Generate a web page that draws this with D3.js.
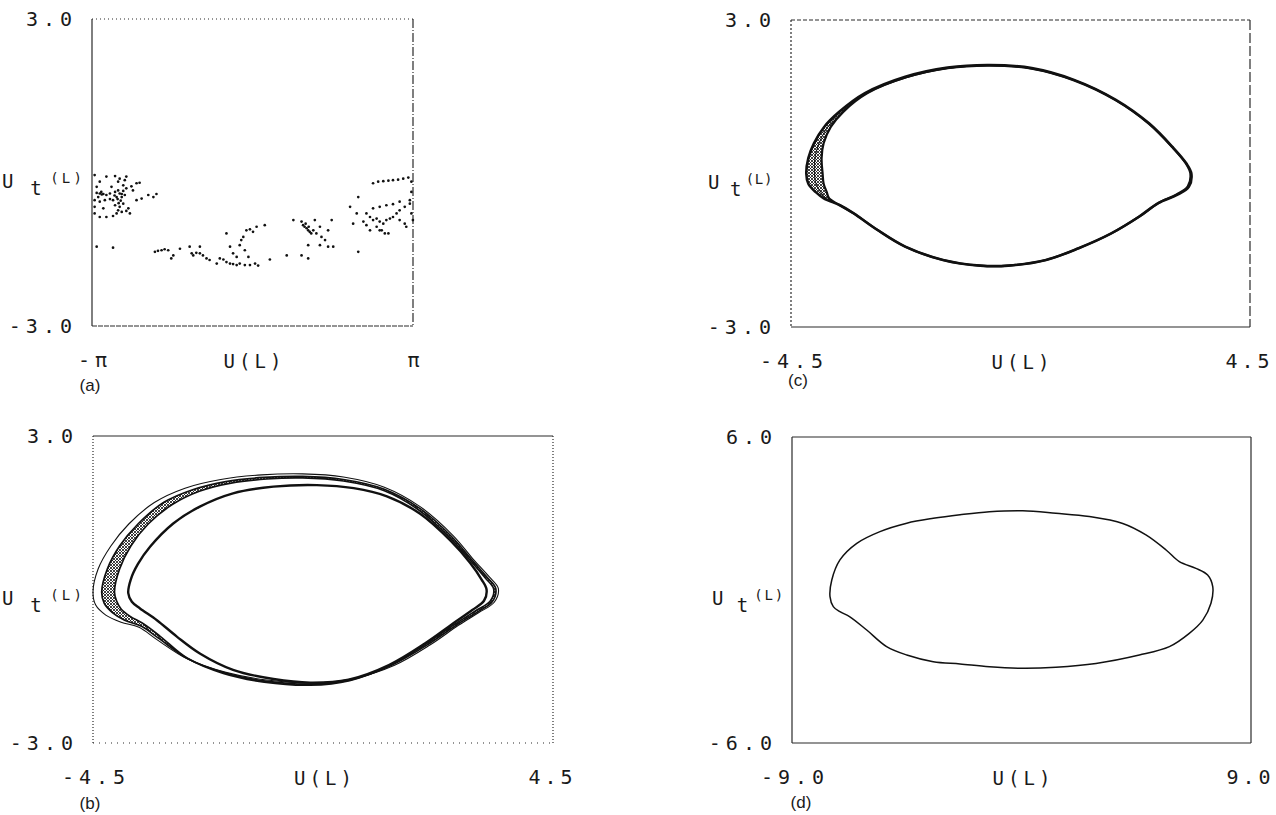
<!DOCTYPE html>
<html>
<head>
<meta charset="utf-8">
<script src="https://cdn.jsdelivr.net/npm/d3@7"></script>
<style>
  body { margin: 0; background: #fff; }
  svg { display: block; }
  .tick text { font-family: "DejaVu Sans Mono", monospace; font-size: 20px; fill: #1a1a1a; letter-spacing: 5px; }
  .lab { font-family: "DejaVu Sans Mono", monospace; fill: #1a1a1a; }
  .tag { font-family: "Liberation Sans", Arial, sans-serif; font-size: 17px; fill: #1a1a1a; }
</style>
</head>
<body>
<svg id="chart" width="1276" height="815"></svg>
<script>

// ---- data ----

// (a) Poincare-like scatter, U(L) in [-pi, pi]
var pointsA = [
  [-3.09,-0.05],[-2.99,-0.18],[-2.86,-0.08],[-2.69,-0.07],[-2.60,-0.12],[-2.50,-0.15],[-2.47,-0.08],
  [-3.05,-0.40],[-2.99,-0.41],[-2.92,-0.42],[-2.86,-0.44],[-2.73,-0.54],[-2.66,-0.48],[-2.60,-0.41],
  [-2.53,-0.36],[-2.47,-0.31],[-2.37,-0.27],[-2.27,-0.21],[-2.21,-0.20],[-2.69,-0.38],[-2.63,-0.35],
  [-2.56,-0.48],[-2.50,-0.44],[-2.99,-0.57],[-2.89,-0.54],[-2.79,-0.52],[-3.09,-0.80],[-2.99,-0.87],
  [-2.86,-0.87],[-2.73,-0.85],[-2.66,-0.80],[-2.63,-0.74],[-2.56,-0.77],[-2.47,-0.75],[-2.40,-0.80],
  [-2.43,-0.70],[-2.34,-0.35],[-2.27,-0.54],[-2.17,-0.51],[-2.04,-0.44],[-1.94,-0.48],[-1.88,-0.42],
  [-3.09,-0.54],[-3.09,-0.67],[-3.05,-0.28],[-3.05,-1.45],[-2.73,-1.47],[-3.02,-0.48],[-2.96,-0.38],
  [-2.79,-0.41],[-2.76,-0.28],[-2.63,-0.18],[-2.53,-0.25],[-2.69,-0.64],[-2.60,-0.67],[-2.53,-0.61],
  [-2.92,-0.70],[-2.56,-0.42],[-2.70,-0.45],[-2.64,-0.52],[-2.58,-0.55],[-2.62,-0.60],[-2.95,-0.43],
  [-1.91,-1.55],[-1.85,-1.53],[-1.78,-1.52],[-1.72,-1.50],[-1.65,-1.52],[-1.59,-1.68],[-1.55,-1.62],
  [-1.42,-1.49],[-1.23,-1.45],[-1.19,-1.58],[-1.16,-1.62],[-1.10,-1.57],[-1.03,-1.58],[-0.97,-1.62],
  [-1.03,-1.45],[-0.90,-1.68],[-0.84,-1.71],[-0.70,-1.78],[-0.64,-1.68],[-0.57,-1.70],[-0.51,-1.75],
  [-0.44,-1.78],[-0.38,-1.79],[-0.31,-1.81],[-0.25,-1.78],[-0.15,-1.81],[-0.05,-1.81],[0.05,-1.78],
  [0.11,-1.82],[0.34,-1.70],[-0.51,-1.19],[-0.44,-1.45],[-0.38,-1.58],[-0.25,-1.42],[-0.18,-1.26],
  [-0.12,-1.13],[-0.05,-1.11],[0.01,-1.16],[0.08,-1.06],[0.24,-1.03],[-0.31,-1.65],[-0.22,-1.32],
  [-0.15,-1.52],[-0.08,-1.65],[0.67,-1.62],[0.80,-0.93],[0.96,-1.62],[1.09,-1.68],
  [0.96,-0.96],[0.99,-1.03],[1.02,-1.06],[1.06,-1.09],[1.09,-1.13],[1.12,-1.16],[1.15,-1.19],
  [1.19,-1.13],[1.25,-1.19],[1.32,-1.06],[1.35,-1.26],[1.42,-1.32],[1.48,-1.13],[1.55,-0.93],
  [1.22,-0.93],[1.32,-1.42],[1.48,-1.45],[1.09,-1.42],[1.58,-1.45],[1.91,-0.67],[1.97,-1.00],
  [2.07,-1.55],[2.07,-0.48],[2.04,-0.80],[1.04,-1.00],[1.10,-1.06],
  [2.36,-0.21],[2.46,-0.18],[2.56,-0.17],[2.66,-0.16],[2.75,-0.15],[2.85,-0.14],[2.95,-0.12],
  [3.05,-0.10],[3.11,-0.18],[2.23,-0.80],[2.30,-0.87],[2.36,-0.93],[2.43,-0.90],[2.49,-0.96],
  [2.56,-1.00],[2.62,-0.93],[2.69,-0.90],[2.75,-0.87],[2.82,-0.80],[2.88,-0.74],[2.98,-0.67],
  [3.08,-0.61],[2.36,-0.70],[2.49,-0.67],[2.62,-0.64],[2.75,-0.62],[2.88,-0.57],[3.08,-0.54],
  [2.43,-1.06],[2.53,-1.13],[2.59,-1.19],[2.66,-1.19],[2.49,-1.13],[2.17,-0.96],[2.23,-1.03],
  [2.30,-1.13],[2.88,-0.93],[2.98,-1.00],[3.01,-1.06],[3.11,-0.80],[3.11,-0.38],[3.14,-0.93]
];

// (b) four nearby loops, outermost to innermost
var loopB1 = [
  [-4.50,-0.05],[-4.40,0.40],[-4.15,0.85],[-3.80,1.28],[-3.30,1.70],[-2.70,1.98],[-2.00,2.15],
  [-1.20,2.24],[-0.40,2.26],[0.40,2.20],[1.20,2.00],[1.90,1.62],[2.55,1.05],[2.95,0.58],[3.25,0.25],
  [3.43,0.02],[3.35,-0.25],[3.05,-0.45],[2.65,-0.70],[2.10,-1.08],[1.40,-1.48],[0.60,-1.74],
  [-0.20,-1.83],[-1.10,-1.77],[-1.90,-1.62],[-2.65,-1.36],[-3.25,-0.98],[-3.60,-0.74],[-3.95,-0.64],
  [-4.25,-0.50],[-4.45,-0.30]
];
var loopB2 = [
  [-4.33,-0.05],[-4.22,0.40],[-3.98,0.85],[-3.62,1.28],[-3.12,1.70],[-2.55,1.95],[-1.90,2.11],
  [-1.15,2.19],[-0.40,2.21],[0.40,2.15],[1.20,1.96],[1.90,1.58],[2.52,1.03],[2.92,0.57],[3.21,0.24],
  [3.38,0.02],[3.31,-0.24],[3.02,-0.44],[2.62,-0.69],[2.06,-1.07],[1.36,-1.47],[0.56,-1.76],
  [-0.22,-1.85],[-1.12,-1.79],[-1.92,-1.63],[-2.65,-1.35],[-3.22,-0.95],[-3.55,-0.72],[-3.88,-0.60],
  [-4.12,-0.45],[-4.28,-0.27]
];
var loopB3 = [
  [-4.08,-0.05],[-3.98,0.40],[-3.76,0.85],[-3.42,1.28],[-2.95,1.66],[-2.42,1.92],[-1.80,2.08],
  [-1.10,2.16],[-0.40,2.18],[0.40,2.12],[1.20,1.93],[1.88,1.55],[2.50,1.00],[2.90,0.55],[3.18,0.22],
  [3.34,0.01],[3.27,-0.23],[2.98,-0.42],[2.58,-0.68],[2.02,-1.06],[1.32,-1.48],[0.52,-1.78],
  [-0.25,-1.87],[-1.15,-1.81],[-1.95,-1.64],[-2.66,-1.34],[-3.18,-0.92],[-3.50,-0.68],[-3.78,-0.52],
  [-3.95,-0.38],[-4.04,-0.22]
];
var loopB4 = [
  [-3.81,-0.07],[-3.76,0.20],[-3.62,0.50],[-3.38,0.84],[-2.93,1.29],[-2.41,1.62],[-1.76,1.88],
  [-0.97,2.01],[-0.12,2.04],[0.60,1.98],[1.25,1.82],[1.90,1.48],[2.50,0.95],[2.88,0.52],[3.10,0.20],
  [3.20,0.00],[3.15,-0.22],[2.92,-0.40],[2.55,-0.66],[2.00,-1.05],[1.30,-1.47],[0.50,-1.76],
  [-0.25,-1.82],[-0.97,-1.75],[-1.76,-1.57],[-2.41,-1.25],[-2.86,-0.92],[-3.25,-0.60],[-3.58,-0.37],
  [-3.74,-0.24]
];

// (c) narrow band: outer, middle and inner strands
var loopCOuter = [
  [-4.20,0.00],[-4.16,0.30],[-4.05,0.59],[-3.85,0.91],[-3.56,1.20],[-3.05,1.57],[-2.26,1.89],
  [-1.43,2.07],[-0.61,2.12],[0.22,2.06],[1.05,1.83],[1.87,1.44],[2.52,0.98],[2.98,0.52],[3.25,0.20],
  [3.35,0.00],[3.30,-0.26],[3.07,-0.42],[2.70,-0.58],[2.33,-0.84],[1.78,-1.17],[1.14,-1.46],
  [0.50,-1.69],[-0.24,-1.80],[-0.79,-1.80],[-1.52,-1.69],[-2.26,-1.43],[-2.81,-1.10],[-3.27,-0.78],
  [-3.54,-0.62],[-3.85,-0.49],[-4.02,-0.36],[-4.16,-0.20]
];
var loopCMid = [
  [-4.04,0.00],[-4.03,0.30],[-3.95,0.59],[-3.78,0.91],[-3.51,1.20],[-3.02,1.56],[-2.24,1.87],
  [-1.43,2.05],[-0.61,2.11],[0.22,2.05],[1.05,1.82],[1.87,1.43],[2.52,0.97],[2.98,0.51],[3.24,0.20],
  [3.34,0.00],[3.29,-0.25],[3.06,-0.42],[2.70,-0.58],[2.33,-0.84],[1.78,-1.17],[1.14,-1.46],
  [0.50,-1.69],[-0.24,-1.80],[-0.79,-1.80],[-1.52,-1.69],[-2.26,-1.43],[-2.81,-1.10],[-3.27,-0.78],
  [-3.54,-0.62],[-3.80,-0.49],[-3.92,-0.36],[-4.01,-0.20]
];
var loopCInner = [
  [-3.88,0.00],[-3.90,0.30],[-3.86,0.59],[-3.72,0.91],[-3.48,1.20],[-3.00,1.57],[-2.24,1.88],
  [-1.43,2.06],[-0.61,2.11],[0.22,2.05],[1.05,1.82],[1.87,1.43],[2.52,0.97],[2.98,0.51],[3.24,0.20],
  [3.33,0.00],[3.28,-0.25],[3.06,-0.41],[2.70,-0.58],[2.33,-0.84],[1.78,-1.17],[1.14,-1.46],
  [0.50,-1.69],[-0.24,-1.80],[-0.79,-1.80],[-1.52,-1.69],[-2.26,-1.43],[-2.81,-1.10],[-3.27,-0.78],
  [-3.54,-0.62],[-3.75,-0.49],[-3.80,-0.36],[-3.86,-0.20]
];

// (d) single closed orbit
var loopD = [
  [-7.51,-0.26],[-7.44,0.39],[-7.12,1.18],[-6.46,1.83],[-5.55,2.29],[-4.50,2.62],[-3.46,2.81],
  [-2.41,2.95],[-1.26,3.07],[0.05,3.11],[1.35,3.01],[2.66,2.88],[3.97,2.61],[4.88,2.16],[5.67,1.57],
  [6.19,1.11],[6.84,0.85],[7.30,0.59],[7.50,0.13],[7.43,-0.52],[7.11,-1.18],[6.58,-1.70],
  [5.80,-2.22],[4.62,-2.55],[2.92,-2.88],[1.35,-3.03],[0.05,-3.07],[-1.26,-3.01],[-2.41,-2.90],
  [-3.46,-2.81],[-4.50,-2.55],[-5.29,-2.22],[-6.07,-1.57],[-6.73,-1.05],[-7.12,-0.85],[-7.38,-0.65]
];

// axis ranges and tick labels
var xDomainA = [-Math.PI, Math.PI], xTickLabelsA = ["-π", "π"];
var xDomainBC = [-4.5, 4.5], xTickLabelsBC = ["-4.5", "4.5"];
var xDomainD = [-9, 9], xTickLabelsD = ["-9.0", "9.0"];
var yDomainABC = [-3, 3], yTickLabelsABC = ["-3.0", "3.0"];
var yDomainD = [-6, 6], yTickLabelsD = ["-6.0", "6.0"];
var xAxisTitle = "U(L)";
var panelTags = ["(a)", "(b)", "(c)", "(d)"];

// ---- layout ----
var svg = d3.select("#chart");
var tickSpacing = 5;

var defs = svg.append("defs");
defs.append("pattern")
    .attr("id", "hatch")
    .attr("patternUnits", "userSpaceOnUse")
    .attr("width", 3).attr("height", 3)
  .append("path")
    .attr("d", "M0,0L3,3M3,0L0,3")
    .attr("stroke", "#111")
    .attr("stroke-width", 0.8);

// sides: top, right, bottom, left dash patterns ("" = solid)
var panels = [
  { left: 92,  top: 19,  width: 321, height: 307, xDomain: xDomainA,  xLabels: xTickLabelsA,
    yDomain: yDomainABC, yLabels: yTickLabelsABC, tag: panelTags[0], tagX: 90,  tagY: 391,
    labGap: 7, labSpan: 83, sides: ["1,3", "9,2,1,2", "5,1", ""] },
  { left: 93,  top: 436, width: 460, height: 307, xDomain: xDomainBC, xLabels: xTickLabelsBC,
    yDomain: yDomainABC, yLabels: yTickLabelsABC, tag: panelTags[1], tagX: 90,  tagY: 809,
    labGap: 8, labSpan: 83, sides: ["", "1,2", "1,5", "1,2"] },
  { left: 791, top: 20,  width: 459, height: 307, xDomain: xDomainBC, xLabels: xTickLabelsBC,
    yDomain: yDomainABC, yLabels: yTickLabelsABC, tag: panelTags[2], tagX: 798, tagY: 386,
    labGap: 18, labSpan: 65, sides: ["4,2", "10,3", "", "2,2"] },
  { left: 792, top: 437, width: 459, height: 306, xDomain: xDomainD,  xLabels: xTickLabelsD,
    yDomain: yDomainD, yLabels: yTickLabelsD, tag: panelTags[3], tagX: 801, tagY: 808,
    labGap: 7, labSpan: 73, sides: ["", "", "", ""] }
];

panels.forEach(function (p) {
    p.x = d3.scaleLinear().domain(p.xDomain).range([0, p.width]);
    p.y = d3.scaleLinear().domain(p.yDomain).range([p.height, 0]);
    p.g = svg.append("g").attr("transform", "translate(" + p.left + "," + p.top + ")");
    p.line = d3.line()
        .x(function (d) { return p.x(d[0]); })
        .y(function (d) { return p.y(d[1]); })
        .curve(d3.curveCatmullRomClosed.alpha(0.5));

    // frame
    var w = p.width, h = p.height;
    var edges = [[0, 0, w, 0], [w, 0, w, h], [0, h, w, h], [0, 0, 0, h]];
    p.g.selectAll(".edge")
        .data(edges)
        .enter().append("line")
        .attr("class", "edge")
        .attr("x1", function (d) { return d[0]; })
        .attr("y1", function (d) { return d[1]; })
        .attr("x2", function (d) { return d[2]; })
        .attr("y2", function (d) { return d[3]; })
        .attr("stroke", "#2a2a2a")
        .attr("stroke-width", 1.2)
        .attr("stroke-dasharray", function (d, i) { return p.sides[i] || null; });

    // end-point tick labels only
    var yAx = p.g.append("g")
        .call(d3.axisLeft(p.y).tickValues(p.yDomain).tickSize(0).tickPadding(20 - tickSpacing)
            .tickFormat(function (d, i) { return p.yLabels[i]; }));
    yAx.select(".domain").remove();
    yAx.attr("font-family", null).attr("font-size", null);

    var xAx = p.g.append("g")
        .attr("transform", "translate(0," + h + ")")
        .call(d3.axisBottom(p.x).tickValues(p.xDomain).tickSize(0).tickPadding(27)
            .tickFormat(function (d, i) { return p.xLabels[i]; }));
    xAx.select(".domain").remove();
    xAx.attr("font-family", null).attr("font-size", null);
    // long right-hand label is end-anchored so it stays inside the page
    xAx.selectAll("text").each(function (d, i) {
        var long = i === 1 && p.xLabels[i].length > 1;
        d3.select(this)
            .attr("text-anchor", long ? "end" : "middle")
            .attr("x", long ? 23 : 0)
            .attr("dx", long ? 0 : tickSpacing / 2)
            .style("letter-spacing", long ? "4px" : null);
    });

    // x title
    p.g.append("text")
        .attr("class", "lab")
        .attr("x", w / 2 + 2)
        .attr("y", h + 42)
        .attr("text-anchor", "middle")
        .style("font-size", "19px")
        .style("letter-spacing", "4px")
        .text(xAxisTitle);

    // y title U_t(L)
    var sx = -p.labGap - p.labSpan, mid = h / 2;
    var lStart = sx + p.labSpan * 0.58;
    var lSpacing = Math.max(0, (p.labSpan * 0.42 - 3 * 8.4) / 3);
    p.g.append("text").attr("class", "lab")
        .attr("x", sx).attr("y", mid + 15)
        .style("font-size", "19px").text("U");
    p.g.append("text").attr("class", "lab")
        .attr("x", sx + p.labSpan * 0.34).attr("y", mid + 22)
        .style("font-size", "19px").text("t");
    p.g.append("text").attr("class", "lab")
        .attr("x", lStart).attr("y", mid + 10)
        .style("font-size", "14px")
        .style("letter-spacing", lSpacing + "px")
        .text("(L)");

    // panel tag
    svg.append("text")
        .attr("class", "tag")
        .attr("x", p.tagX).attr("y", p.tagY)
        .attr("text-anchor", "middle")
        .text(p.tag);
});

// (a) scatter
var pa = panels[0];
pa.g.selectAll(".dot")
    .data(pointsA)
    .enter().append("circle")
    .attr("class", "dot")
    .attr("cx", function (d) { return pa.x(d[0]); })
    .attr("cy", function (d) { return pa.y(d[1]); })
    .attr("r", 1.35)
    .attr("fill", "#111");

// (b) loops with hatched band between 2nd and 3rd
var pb = panels[1];
pb.g.append("path")
    .attr("d", pb.line(loopB2) + pb.line(loopB3))
    .attr("fill", "url(#hatch)")
    .attr("fill-rule", "evenodd");
[[loopB1, 1.1], [loopB2, 1.7], [loopB3, 1.7], [loopB4, 2.4]].forEach(function (s) {
    pb.g.append("path")
        .attr("d", pb.line(s[0]))
        .attr("fill", "none")
        .attr("stroke", "#111")
        .attr("stroke-width", s[1]);
});

// (c) band
var pc = panels[2];
pc.g.append("path")
    .attr("d", pc.line(loopCOuter) + pc.line(loopCInner))
    .attr("fill", "url(#hatch)")
    .attr("fill-rule", "evenodd");
[[loopCOuter, 2.6], [loopCMid, 1.0], [loopCInner, 2.2]].forEach(function (s) {
    pc.g.append("path")
        .attr("d", pc.line(s[0]))
        .attr("fill", "none")
        .attr("stroke", "#111")
        .attr("stroke-width", s[1]);
});

// (d) orbit
var pd = panels[3];
pd.g.append("path")
    .attr("d", pd.line(loopD))
    .attr("fill", "none")
    .attr("stroke", "#111")
    .attr("stroke-width", 1.5);

</script>
</body>
</html>
